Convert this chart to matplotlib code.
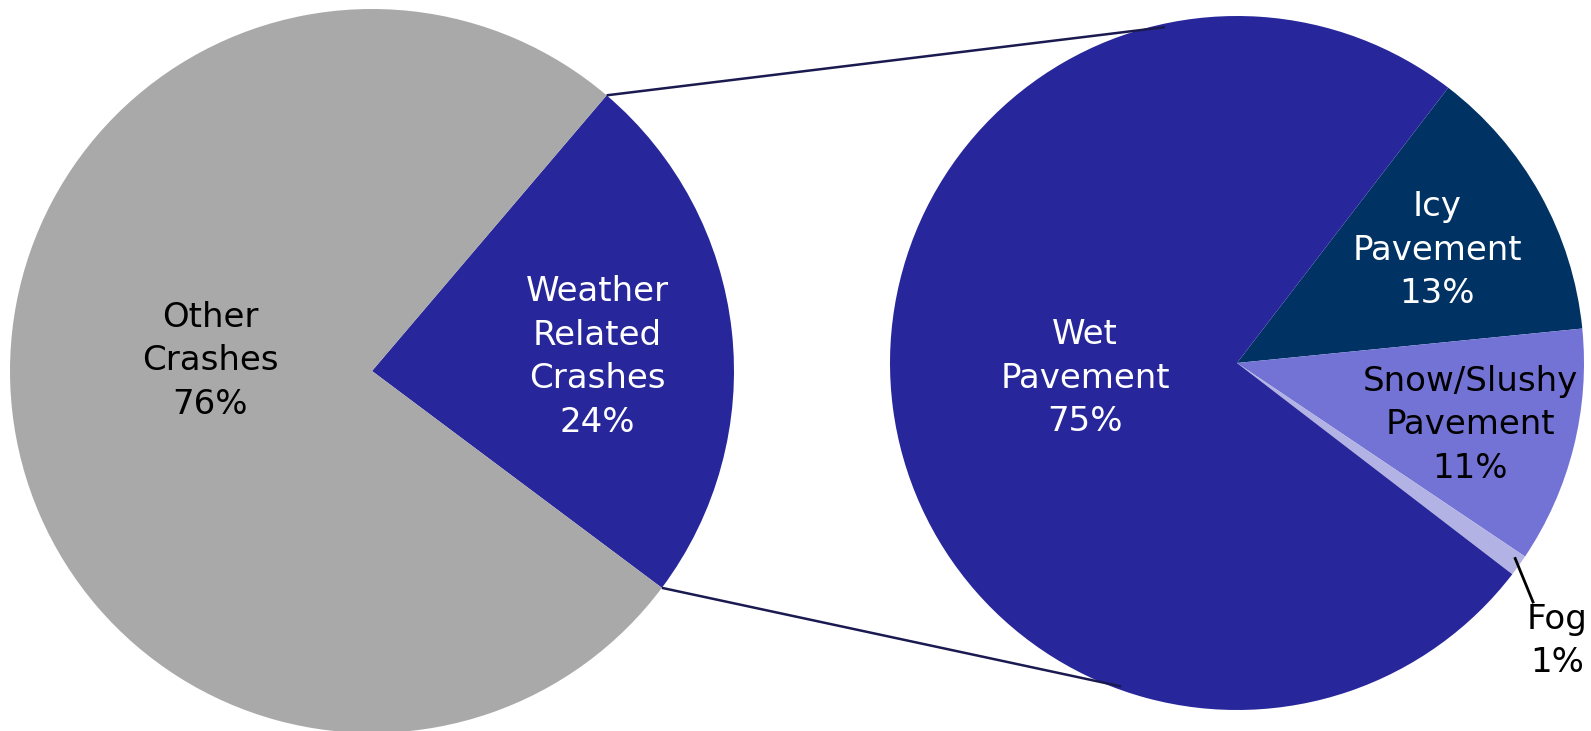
import numpy as np
import matplotlib.pyplot as plt

# main pie
main_labels = ['Weather\nRelated\nCrashes', 'Other\nCrashes']
main_values = [24, 76]
main_colors = ['#27279b', '#a9a9a9']
main_text_colors = ['white', 'black']

# breakdown of weather related crashes
sub_labels = ['Icy\nPavement', 'Snow/Slushy\nPavement', 'Fog', 'Wet\nPavement']
sub_values = [13, 11, 1, 75]
sub_colors = ['#003264', '#7373d6', '#b2b2e4', '#27279b']
sub_text_colors = ['white', 'black', 'black', 'white']

W, H = 1591, 731
fig = plt.figure(figsize=(W / 100, H / 100), dpi=100)
ax = fig.add_axes([0, 0, 1, 1])

c1, r1 = (372, 360), 362   # left pie centre / radius (pixel units)
c2, r2 = (1237, 368), 347  # right pie centre / radius
start1 = 49.6
start2 = 52.5

ax.pie(main_values, colors=main_colors, startangle=start1, counterclock=False,
       center=c1, radius=r1, wedgeprops=dict(linewidth=0))
ax.pie(sub_values, colors=sub_colors, startangle=start2, counterclock=False,
       center=c2, radius=r2, wedgeprops=dict(linewidth=0))

ax.set_xlim(0, W)
ax.set_ylim(0, H)
ax.set_aspect('equal')
ax.axis('off')

# label positions (layout only)
main_pos = [(597, 374), (210, 370)]
sub_pos = [(1437, 481), (1470, 306), (1557, 90), (1085, 353)]

for lab, v, col, p in zip(main_labels, main_values, main_text_colors, main_pos):
    ax.text(p[0], p[1], f'{lab}\n{v}%', color=col, fontsize=24.5, ha='center',
            va='center', linespacing=1.4)

for lab, v, col, p in zip(sub_labels, sub_values, sub_text_colors, sub_pos):
    ax.text(p[0], p[1], f'{lab}\n{v}%', color=col, fontsize=24.5, ha='center',
            va='center', linespacing=1.4)

# connector lines between the pies
def pt(c, r, ang):
    a = np.deg2rad(ang)
    return c[0] + r * np.cos(a), c[1] + r * np.sin(a)

w_top = start1
w_bot = start1 - 360 * main_values[0] / sum(main_values)
for a1, a2 in [(w_top, 102.1), (w_bot, -109.7)]:
    x1, y1 = pt(c1, r1, a1)
    x2, y2 = pt(c2, r2 * 0.99, a2)
    ax.plot([x1, x2], [y1, y2], color='#1a1a50', lw=1.8, solid_capstyle='butt')

# leader line for the fog slice
fog_start = start2 - 360 * sum(sub_values[:2]) / sum(sub_values)
fog_mid = fog_start - 360 * sub_values[2] / sum(sub_values) / 2
fx, fy = pt(c2, r2 * 0.98, fog_mid + 0.6)
ax.plot([fx, 1533], [fy, 129], color='black', lw=2)

fig.savefig('out.png', dpi=100)
